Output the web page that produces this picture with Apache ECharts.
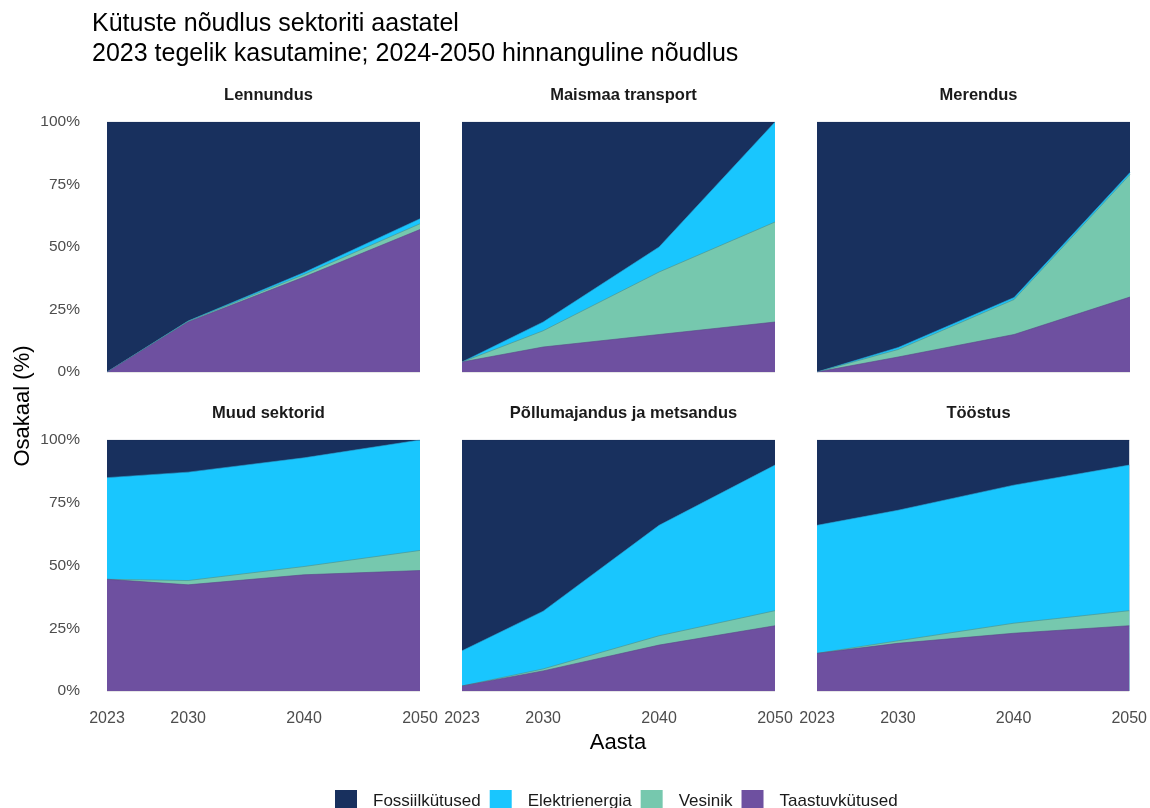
<!DOCTYPE html>
<html>
<head>
<meta charset="utf-8">
<script src="https://cdn.jsdelivr.net/npm/echarts@6/dist/echarts.min.js"></script>
<style>html,body{margin:0;padding:0;background:#fff}#c{width:1150px;height:808px}</style>
</head>
<body>
<div id="c"></div>
<script>
const years = [2023, 2030, 2040, 2050];
const sectors = ['Lennundus', 'Maismaa transport', 'Merendus', 'Muud sektorid', 'Põllumajandus ja metsandus', 'Tööstus'];
const fuels = ['Fossiilkütused', 'Elektrienergia', 'Vesinik', 'Taastuvkütused'];
const yTicks = [0, 25, 50, 75, 100];
// values per sector (rows) and year (columns), in %
const taastuv = [[0, 20, 38, 57], [4, 10, 15, 20], [0, 6, 15, 30], [44.5, 42.3, 46.3, 48], [2, 8, 18.3, 26], [15, 19, 23, 26]];
const vesinik = [[0, 0.3, 1, 2.3], [0, 6.5, 25, 40], [0, 3, 14, 49], [0, 1.7, 3.3, 8], [0, 0.8, 3.7, 6], [0, 1, 4, 6]];
const elektri = [[0, 0.1, 0.8, 2], [0, 3.5, 10, 40], [0, 0.8, 0.8, 0.8], [40.5, 43.2, 43.3, 44], [14, 23, 44, 58], [51, 52, 55, 58]];
const fossiil = [[100, 79.6, 60.2, 38.7], [96, 80, 50, 0], [100, 90.2, 70.2, 20.2], [15, 12.8, 7.1, 0], [84, 68.2, 34, 10], [34, 28, 18, 10]];

const colors = {
  'Fossiilkütused': '#18305E',
  'Elektrienergia': '#19C6FE',
  'Vesinik': '#76C8AE',
  'Taastuvkütused': '#6E50A0'
};
const lineColors = {
  'Fossiilkütused': '#1a2c55',
  'Elektrienergia': '#2a9fcf',
  'Vesinik': '#4f8f86',
  'Taastuvkütused': '#5a4488'
};

const FONT = 'Arial, "Liberation Sans", sans-serif';
const lefts = [107, 462, 817];
const tops = [122, 440];
const W = 313, H = 250;

const grids = [], xAxes = [], yAxes = [], series = [], titles = [];
titles.push({
  text: 'Kütuste nõudlus sektoriti aastatel\n2023 tegelik kasutamine; 2024-2050 hinnanguline nõudlus',
  left: 87, top: 4,
  textStyle: { fontFamily: FONT, fontSize: 25, fontWeight: 'normal', color: '#000', lineHeight: 30 }
});

// bottom-to-top stacking order
const layers = [
  ['Taastuvkütused', taastuv],
  ['Vesinik', vesinik],
  ['Elektrienergia', elektri],
  ['Fossiilkütused', fossiil]
];

sectors.forEach((s, i) => {
  const col = i % 3, row = Math.floor(i / 3);
  grids.push({ left: lefts[col], top: tops[row], width: W, height: H + row });
  titles.push({
    text: s,
    left: lefts[col] + W / 2, top: tops[row] - 40, textAlign: 'center',
    textStyle: { fontFamily: FONT, fontSize: 16.5, fontWeight: 'bold', color: '#1a1a1a' }
  });
  xAxes.push({
    type: 'value', gridIndex: i, min: 2023, max: 2050,
    axisLine: { show: false }, axisTick: { show: false },
    splitLine: { show: false },
    axisLabel: {
      show: row === 1, customValues: years, margin: 20,
      fontFamily: FONT, fontSize: 16, color: '#4d4d4d', formatter: v => String(v)
    }
  });
  yAxes.push({
    type: 'value', gridIndex: i, min: 0, max: 100, interval: 25,
    axisLine: { show: false }, axisTick: { show: false },
    splitLine: { show: true, lineStyle: { color: '#e6e6e6', width: 1 } },
    axisLabel: {
      show: col === 0, margin: 27, fontFamily: FONT, fontSize: 15.5, color: '#4d4d4d',
      formatter: v => v + '%'
    }
  });
  // cumulative tops of each layer, computed from the data arrays
  const cum = years.map(() => 0);
  const stacked = layers.map(([name, arr]) => {
    const tops = years.map((y, k) => { cum[k] += arr[i][k]; return cum[k]; });
    return [name, tops];
  });
  // draw from the top layer down so lower layers paint over
  stacked.slice().reverse().forEach(([name, tops]) => {
    series.push({
      type: 'line', name: name, xAxisIndex: i, yAxisIndex: i,
      data: years.map((y, k) => [y, Math.min(100, tops[k])]),
      showSymbol: false, symbol: 'none', smooth: false, clip: true,
      lineStyle: { width: 0.6, color: lineColors[name] },
      areaStyle: { color: colors[name], opacity: 1, origin: 'start' },
      itemStyle: { color: colors[name] },
      emphasis: { disabled: true },
      animation: false
    });
  });
});

const chart = echarts.init(document.getElementById('c'));
chart.setOption({
  backgroundColor: '#fff',
  animation: false,
  title: titles,
  grid: grids,
  xAxis: xAxes,
  yAxis: yAxes,
  series: series,
  legend: {
    data: fuels, left: 330, top: 785, icon: 'rect', itemWidth: 22, itemHeight: 22, itemGap: 9,
    textStyle: { fontFamily: FONT, fontSize: 17, color: '#1a1a1a', padding: [0, 0, 0, 11] },
    selectedMode: false
  },
  graphic: [
    { type: 'text', x: 618, y: 743, style: { text: 'Aasta', font: '22px ' + FONT, fill: '#000', align: 'center', verticalAlign: 'middle' } },
    { type: 'text', x: 23, y: 406, rotation: Math.PI / 2, style: { text: 'Osakaal (%)', font: '22px ' + FONT, fill: '#000', align: 'center', verticalAlign: 'middle' } }
  ]
});
</script>
</body>
</html>
